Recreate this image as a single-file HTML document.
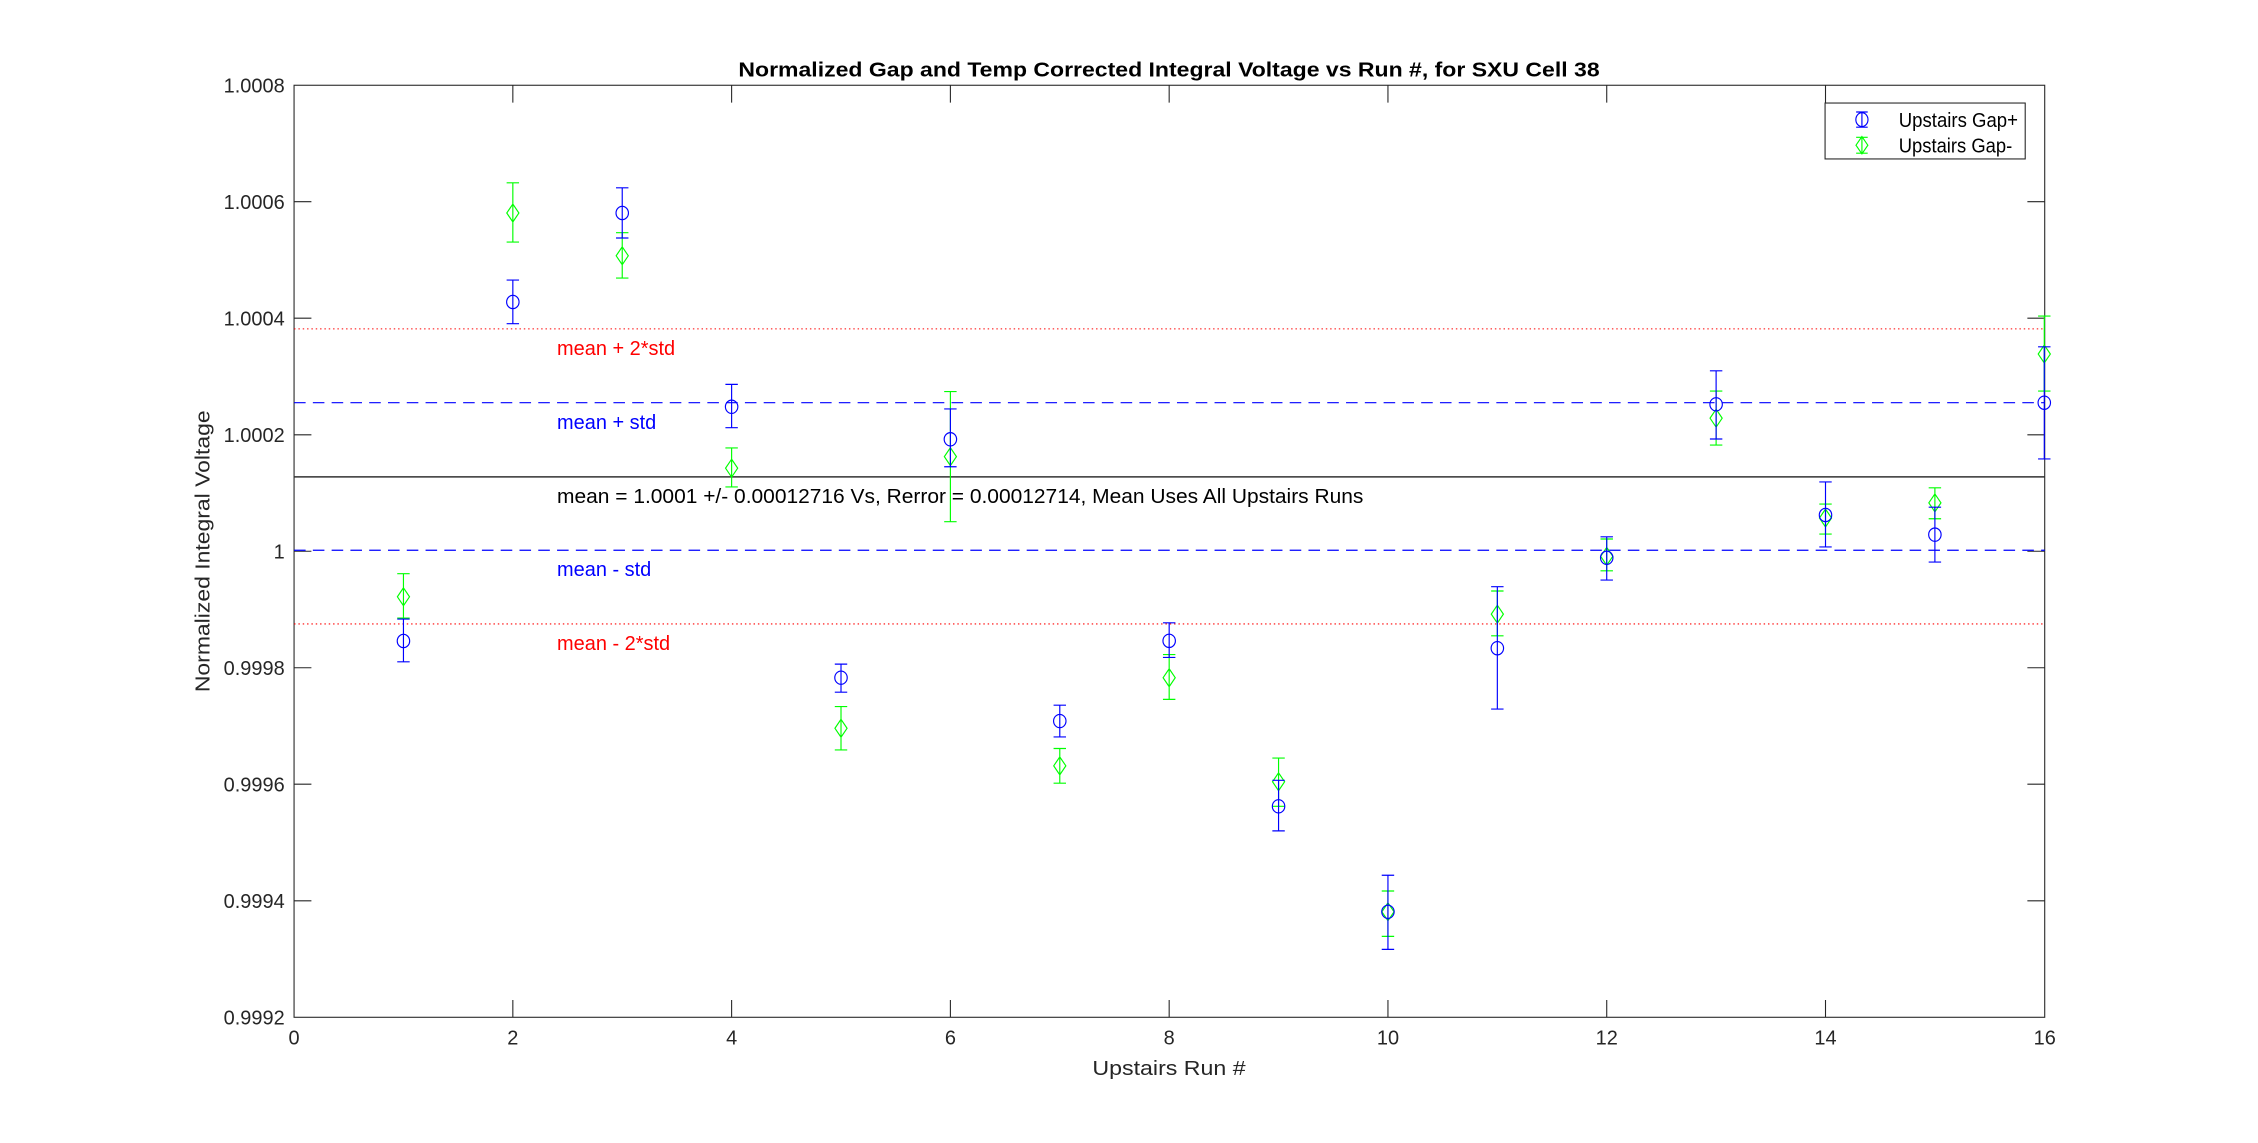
<!DOCTYPE html>
<html><head><meta charset="utf-8"><style>html,body{margin:0;padding:0;background:#fff}svg{display:block}</style></head>
<body>
<svg width="2258" height="1143" viewBox="0 0 1562.6 791" preserveAspectRatio="none" xmlns="http://www.w3.org/2000/svg" font-family="Liberation Sans, Arial, sans-serif">
<rect width="1562.6" height="791" fill="#fff"/>
<g stroke="#262626" stroke-width="0.75" fill="none">
<rect x="203.5" y="59" width="1211.5" height="645"/>
<path d="M354.9 59v12M506.3 59v12M657.7 59v12M809.1 59v12M960.5 59v12M1111.9 59v12M1263.3 59v12"/>
<path d="M354.9 704v-12M506.3 704v-12M657.7 704v-12M809.1 704v-12M960.5 704v-12M1111.9 704v-12M1263.3 704v-12"/>
<path d="M203.5 139.6h12M203.5 220.2h12M203.5 300.9h12M203.5 381.5h12M203.5 462.1h12M203.5 542.7h12M203.5 623.4h12"/>
<path d="M1415 139.6h-12M1415 220.2h-12M1415 300.9h-12M1415 381.5h-12M1415 462.1h-12M1415 542.7h-12M1415 623.4h-12"/>
</g>
<g font-size="13.8" fill="#262626" text-anchor="end">
<text x="197" y="64">1.0008</text><text x="197" y="144.6">1.0006</text><text x="197" y="225.2">1.0004</text><text x="197" y="305.9">1.0002</text><text x="197" y="386.5">1</text><text x="197" y="467.1">0.9998</text><text x="197" y="547.7">0.9996</text><text x="197" y="628.4">0.9994</text><text x="197" y="709">0.9992</text>
</g>
<g font-size="13.8" fill="#262626" text-anchor="middle">
<text x="203.5" y="723">0</text><text x="354.9" y="723">2</text><text x="506.3" y="723">4</text><text x="657.7" y="723">6</text><text x="809.1" y="723">8</text><text x="960.5" y="723">10</text><text x="1111.9" y="723">12</text><text x="1263.3" y="723">14</text><text x="1415" y="723">16</text>
<text x="809" y="744" textLength="106" lengthAdjust="spacingAndGlyphs">Upstairs Run #</text>
<text x="809" y="53" font-weight="bold" fill="#000" textLength="596" lengthAdjust="spacingAndGlyphs">Normalized Gap and Temp Corrected Integral Voltage vs Run #, for SXU Cell 38</text>
<text transform="translate(145 381.5) rotate(-90)" textLength="195" lengthAdjust="spacingAndGlyphs">Normalized Integral Voltage</text>
</g>
<line x1="203.5" x2="1415" y1="227.6" y2="227.6" stroke="#ff0000" stroke-width="0.75" stroke-dasharray="1,2"/>
<line x1="203.5" x2="1415" y1="431.8" y2="431.8" stroke="#ff0000" stroke-width="0.75" stroke-dasharray="1,2"/>
<line x1="203.5" x2="1415" y1="278.7" y2="278.7" stroke="#0000ff" stroke-width="0.8" stroke-dasharray="8,5"/>
<line x1="203.5" x2="1415" y1="380.8" y2="380.8" stroke="#0000ff" stroke-width="0.8" stroke-dasharray="8,5"/>
<line x1="203.5" x2="1415" y1="330" y2="330" stroke="#333" stroke-width="1"/>
<g font-size="13.8">
<text x="385.5" y="245.7" fill="#ff0000">mean + 2*std</text>
<text x="385.5" y="297" fill="#0000ff">mean + std</text>
<text x="385.5" y="348" fill="#000" textLength="558" lengthAdjust="spacingAndGlyphs">mean = 1.0001 +/- 0.00012716 Vs, Rerror = 0.00012714, Mean Uses All Upstairs Runs</text>
<text x="385.5" y="398.6" fill="#0000ff">mean - std</text>
<text x="385.5" y="450" fill="#ff0000">mean - 2*std</text>
</g>
<g fill="none" stroke-width="0.8" stroke="#00ff00">
<path d="M279.2 397V427.7m-4.3 0h8.6M279.2 397m-4.3 0h8.6M279.2 413m0 -6.2l4.2 6.2l-4.2 6.2l-4.2 -6.2z"/>
<path d="M354.9 126.5V167.5m-4.3 0h8.6M354.9 126.5m-4.3 0h8.6M354.9 147.4m0 -6.2l4.2 6.2l-4.2 6.2l-4.2 -6.2z"/>
<path d="M430.6 161V192.4m-4.3 0h8.6M430.6 161m-4.3 0h8.6M430.6 177m0 -6.2l4.2 6.2l-4.2 6.2l-4.2 -6.2z"/>
<path d="M506.3 310V337m-4.3 0h8.6M506.3 310m-4.3 0h8.6M506.3 324m0 -6.2l4.2 6.2l-4.2 6.2l-4.2 -6.2z"/>
<path d="M582 489V519m-4.3 0h8.6M582 489m-4.3 0h8.6M582 504m0 -6.2l4.2 6.2l-4.2 6.2l-4.2 -6.2z"/>
<path d="M657.7 271V361m-4.3 0h8.6M657.7 271m-4.3 0h8.6M657.7 316m0 -6.2l4.2 6.2l-4.2 6.2l-4.2 -6.2z"/>
<path d="M733.4 518V542m-4.3 0h8.6M733.4 518m-4.3 0h8.6M733.4 530m0 -6.2l4.2 6.2l-4.2 6.2l-4.2 -6.2z"/>
<path d="M809.1 453V484m-4.3 0h8.6M809.1 453m-4.3 0h8.6M809.1 469m0 -6.2l4.2 6.2l-4.2 6.2l-4.2 -6.2z"/>
<path d="M884.8 524.6V558m-4.3 0h8.6M884.8 524.6m-4.3 0h8.6M884.8 541m0 -6.2l4.2 6.2l-4.2 6.2l-4.2 -6.2z"/>
<path d="M960.5 616.6V648m-4.3 0h8.6M960.5 616.6m-4.3 0h8.6M960.5 631m0 -6.2l4.2 6.2l-4.2 6.2l-4.2 -6.2z"/>
<path d="M1036.2 409V440m-4.3 0h8.6M1036.2 409m-4.3 0h8.6M1036.2 425m0 -6.2l4.2 6.2l-4.2 6.2l-4.2 -6.2z"/>
<path d="M1111.9 373V395m-4.3 0h8.6M1111.9 373m-4.3 0h8.6M1111.9 385m0 -6.2l4.2 6.2l-4.2 6.2l-4.2 -6.2z"/>
<path d="M1187.6 270.6V308m-4.3 0h8.6M1187.6 270.6m-4.3 0h8.6M1187.6 289.4m0 -6.2l4.2 6.2l-4.2 6.2l-4.2 -6.2z"/>
<path d="M1263.3 348.8V369.6m-4.3 0h8.6M1263.3 348.8m-4.3 0h8.6M1263.3 358.5m0 -6.2l4.2 6.2l-4.2 6.2l-4.2 -6.2z"/>
<path d="M1339 337.6V359m-4.3 0h8.6M1339 337.6m-4.3 0h8.6M1339 348m0 -6.2l4.2 6.2l-4.2 6.2l-4.2 -6.2z"/>
<path d="M1414.7 218.7V270.6m-4.3 0h8.6M1414.7 218.7m-4.3 0h8.6M1414.7 245m0 -6.2l4.2 6.2l-4.2 6.2l-4.2 -6.2z"/>
</g>
<g fill="none" stroke-width="0.8" stroke="#0000ff">
<path d="M279.2 428.4V458m-4.3 0h8.6M279.2 428.4m-4.3 0h8.6"/><ellipse cx="279.2" cy="443.6" rx="4.3" ry="4.6"/>
<path d="M354.9 193.8V224m-4.3 0h8.6M354.9 193.8m-4.3 0h8.6"/><ellipse cx="354.9" cy="209" rx="4.3" ry="4.6"/>
<path d="M430.6 130V164.7m-4.3 0h8.6M430.6 130m-4.3 0h8.6"/><ellipse cx="430.6" cy="147.4" rx="4.3" ry="4.6"/>
<path d="M506.3 266V296m-4.3 0h8.6M506.3 266m-4.3 0h8.6"/><ellipse cx="506.3" cy="281.5" rx="4.3" ry="4.6"/>
<path d="M582 459.6V479m-4.3 0h8.6M582 459.6m-4.3 0h8.6"/><ellipse cx="582" cy="469" rx="4.3" ry="4.6"/>
<path d="M657.7 283V323m-4.3 0h8.6M657.7 283m-4.3 0h8.6"/><ellipse cx="657.7" cy="304" rx="4.3" ry="4.6"/>
<path d="M733.4 488V510m-4.3 0h8.6M733.4 488m-4.3 0h8.6"/><ellipse cx="733.4" cy="499" rx="4.3" ry="4.6"/>
<path d="M809.1 431V455m-4.3 0h8.6M809.1 431m-4.3 0h8.6"/><ellipse cx="809.1" cy="443.5" rx="4.3" ry="4.6"/>
<path d="M884.8 540V575m-4.3 0h8.6M884.8 540m-4.3 0h8.6"/><ellipse cx="884.8" cy="558" rx="4.3" ry="4.6"/>
<path d="M960.5 605.7V657m-4.3 0h8.6M960.5 605.7m-4.3 0h8.6"/><ellipse cx="960.5" cy="631" rx="4.3" ry="4.6"/>
<path d="M1036.2 406V490.7m-4.3 0h8.6M1036.2 406m-4.3 0h8.6"/><ellipse cx="1036.2" cy="448.6" rx="4.3" ry="4.6"/>
<path d="M1111.9 371.5V401.4m-4.3 0h8.6M1111.9 371.5m-4.3 0h8.6"/><ellipse cx="1111.9" cy="386" rx="4.3" ry="4.6"/>
<path d="M1187.6 256.6V303.8m-4.3 0h8.6M1187.6 256.6m-4.3 0h8.6"/><ellipse cx="1187.6" cy="279.8" rx="4.3" ry="4.6"/>
<path d="M1263.3 333.5V378.5m-4.3 0h8.6M1263.3 333.5m-4.3 0h8.6"/><ellipse cx="1263.3" cy="356.4" rx="4.3" ry="4.6"/>
<path d="M1339 351V389m-4.3 0h8.6M1339 351m-4.3 0h8.6"/><ellipse cx="1339" cy="370" rx="4.3" ry="4.6"/>
<path d="M1414.7 240V317.6m-4.3 0h8.6M1414.7 240m-4.3 0h8.6"/><ellipse cx="1414.7" cy="278.7" rx="4.3" ry="4.6"/>
</g>
<rect x="1263" y="71.3" width="138.5" height="38.7" fill="#fff" stroke="#262626" stroke-width="0.75"/>
<g font-size="13.8" fill="#000"><text x="1314" y="88" textLength="82.5" lengthAdjust="spacingAndGlyphs">Upstairs Gap+</text><text x="1314" y="105.5" textLength="78.5" lengthAdjust="spacingAndGlyphs">Upstairs Gap-</text></g>
<g fill="none" stroke-width="0.8">
<g stroke="#0000ff"><path d="M1284.5 77.5h8M1284.5 88h8M1288.5 77.5v10.5"/><ellipse cx="1288.5" cy="82.8" rx="4.2" ry="4.8"/></g>
<g stroke="#00ff00"><path d="M1284.5 95h8M1284.5 106h8M1288.5 95v11"/><path d="M1288.5 94.5L1292.6 100.5L1288.5 106.5L1284.4 100.5Z"/></g>
</g>
</svg>
</body></html>
